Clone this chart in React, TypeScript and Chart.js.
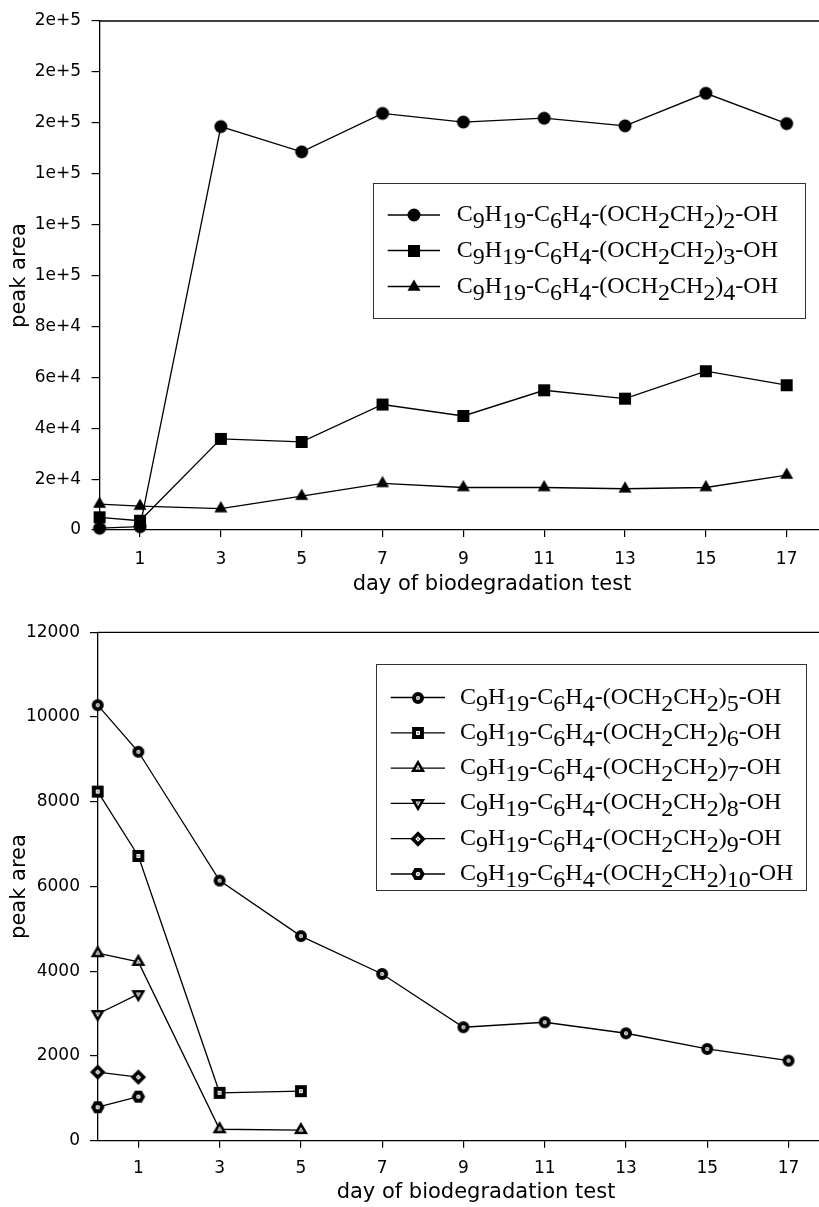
import React, { useEffect, useRef } from 'react';
import { Chart, registerables } from 'chart.js';

Chart.register(...registerables);

// ---------- data ----------
const days = [0, 1, 3, 5, 7, 9, 11, 13, 15, 17];
const xTickValues = [1, 3, 5, 7, 9, 11, 13, 15, 17];
const xTitleText = 'day of biodegradation test';
const yTitleText = 'peak area';

const topSeriesLabels = [
  'C_9H_19-C_6H_4-(OCH_2CH_2)_2-OH',
  'C_9H_19-C_6H_4-(OCH_2CH_2)_3-OH',
  'C_9H_19-C_6H_4-(OCH_2CH_2)_4-OH',
];
const eo2Values = [700, 1300, 158500, 148600, 163700, 160300, 161800, 158800, 171600, 159700];
const eo3Values = [5000, 3650, 35800, 34600, 49300, 44800, 54900, 51600, 62400, 56900];
const eo4Values = [10200, 9400, 8400, 13300, 18300, 16700, 16700, 16200, 16700, 21600];
const topYTicks = [0, 20000, 40000, 60000, 80000, 100000, 120000, 140000, 160000, 180000, 200000];

const bottomSeriesLabels = [
  'C_9H_19-C_6H_4-(OCH_2CH_2)_5-OH',
  'C_9H_19-C_6H_4-(OCH_2CH_2)_6-OH',
  'C_9H_19-C_6H_4-(OCH_2CH_2)_7-OH',
  'C_9H_19-C_6H_4-(OCH_2CH_2)_8-OH',
  'C_9H_19-C_6H_4-(OCH_2CH_2)_9-OH',
  'C_9H_19-C_6H_4-(OCH_2CH_2)_10-OH',
];
const eo5Values = [10280, 9180, 6140, 4830, 3936, 2678, 2796, 2536, 2165, 1889];
const eo6Values = [8240, 6720, 1130, 1170];
const eo7Values = [4425, 4220, 270, 250];
const eo8Values = [2990, 3460];
const eo9Values = [1620, 1500];
const eo10Values = [790, 1040];
const bottomYTicks = [0, 2000, 4000, 6000, 8000, 10000, 12000];

// ---------- helpers ----------
type Shape = 'circle' | 'square' | 'triangle' | 'triangleDown' | 'diamond' | 'hexagon';

function shapePath(ctx: CanvasRenderingContext2D, shape: Shape, cx: number, cy: number, r: number) {
  ctx.beginPath();
  switch (shape) {
    case 'circle':
      ctx.arc(cx, cy, r, 0, Math.PI * 2);
      break;
    case 'square':
      ctx.rect(cx - r, cy - r, 2 * r, 2 * r);
      break;
    case 'triangle':
      ctx.moveTo(cx, cy - r);
      ctx.lineTo(cx + r * 0.866, cy + r * 0.5);
      ctx.lineTo(cx - r * 0.866, cy + r * 0.5);
      ctx.closePath();
      break;
    case 'triangleDown':
      ctx.moveTo(cx, cy + r);
      ctx.lineTo(cx + r * 0.866, cy - r * 0.5);
      ctx.lineTo(cx - r * 0.866, cy - r * 0.5);
      ctx.closePath();
      break;
    case 'diamond':
      ctx.moveTo(cx, cy - r);
      ctx.lineTo(cx + r, cy);
      ctx.lineTo(cx, cy + r);
      ctx.lineTo(cx - r, cy);
      ctx.closePath();
      break;
    case 'hexagon':
      for (let i = 0; i < 6; i++) {
        const a = (i * Math.PI) / 3;
        const px = cx + r * Math.cos(a);
        const py = cy + r * Math.sin(a);
        if (i === 0) ctx.moveTo(px, py);
        else ctx.lineTo(px, py);
      }
      ctx.closePath();
      break;
  }
}

function makeMarker(shape: Shape, r: number, hollow: boolean, lw = 3): HTMLCanvasElement {
  const size = 24;
  const c = document.createElement('canvas');
  c.width = size;
  c.height = size;
  const ctx = c.getContext('2d')!;
  const m = size / 2;
  shapePath(ctx, shape, m, m, r);
  if (hollow) {
    ctx.fillStyle = '#fff';
    ctx.fill();
    ctx.lineWidth = lw;
    ctx.lineJoin = 'miter';
    ctx.strokeStyle = '#000';
    ctx.stroke();
    ctx.beginPath();
    ctx.arc(m, m, 0.9, 0, Math.PI * 2);
    ctx.fillStyle = '#777';
    ctx.fill();
  } else {
    ctx.fillStyle = '#000';
    ctx.fill();
  }
  return c;
}

function drawFormula(ctx: CanvasRenderingContext2D, text: string, x: number, baseline: number) {
  const parts = text.split(/_(\d+)/);
  let cx = x;
  parts.forEach((p, i) => {
    if (!p) return;
    const yy = i % 2 === 1 ? baseline + 7 : baseline;
    ctx.fillText(p, cx, yy);
    cx += ctx.measureText(p).width;
  });
}

type LegendCfg = {
  box: { x: number; y: number; w: number; h: number };
  rows: number[];
  lineX0: number;
  lineX1: number;
  markerX: number;
  textX: number;
  items: { label: string; marker: HTMLCanvasElement }[];
};

function makeDecor(legend: LegendCfg, titlePos: { x: number; y: number }) {
  return {
    id: 'decor',
    afterDraw(chart: any) {
      const { ctx, chartArea } = chart;
      ctx.save();
      // top frame line
      ctx.strokeStyle = '#000';
      ctx.lineWidth = 1.3;
      ctx.beginPath();
      ctx.moveTo(chartArea.left, chartArea.top);
      ctx.lineTo(chartArea.right, chartArea.top);
      ctx.stroke();
      // x axis title
      ctx.font = '21px "DejaVu Sans"';
      ctx.fillStyle = '#000';
      ctx.textAlign = 'center';
      ctx.textBaseline = 'middle';
      ctx.fillText(xTitleText, titlePos.x, titlePos.y);
      // legend
      const b = legend.box;
      ctx.strokeStyle = '#333';
      ctx.lineWidth = 1;
      ctx.strokeRect(b.x + 0.5, b.y + 0.5, b.w, b.h);
      ctx.font = '24px "Liberation Serif"';
      ctx.textAlign = 'left';
      ctx.textBaseline = 'alphabetic';
      legend.items.forEach((it, i) => {
        const y = legend.rows[i];
        ctx.strokeStyle = '#000';
        ctx.lineWidth = 1.3;
        ctx.beginPath();
        ctx.moveTo(legend.lineX0, y);
        ctx.lineTo(legend.lineX1, y);
        ctx.stroke();
        ctx.drawImage(it.marker, Math.round(legend.markerX - it.marker.width / 2), Math.round(y - it.marker.height / 2));
        ctx.fillStyle = '#000';
        drawFormula(ctx, it.label, legend.textX, y + 6);
      });
      ctx.restore();
    },
  };
}

function series(values: number[]) {
  return values.map((v, i) => ({ x: days[i], y: v }));
}

function buildOptions(p: {
  yTicks: number[];
  yMax: number;
  yFmt: (v: number) => string;
  xMax: number;
  yWidth: number;
  xHeight: number;
  padTop: number;
  yTickPad: number;
  xTickPad: number;
  yTickLen: number;
  xTickLen: number;
}) {
  return {
    responsive: false,
    maintainAspectRatio: false,
    animation: false,
    layout: { autoPadding: false, padding: { top: p.padTop, left: 0, right: 0, bottom: 0 } },
    plugins: { legend: { display: false }, tooltip: { enabled: false } },
    scales: {
      x: {
        type: 'linear',
        min: 0,
        max: p.xMax,
        afterBuildTicks: (s: any) => {
          s.ticks = xTickValues.map((v) => ({ value: v }));
        },
        afterFit: (s: any) => {
          s.height = p.xHeight;
          s.paddingLeft = 0;
          s.paddingRight = 0;
        },
        ticks: {
          autoSkip: false,
          maxRotation: 0,
          color: '#000',
          padding: p.xTickPad,
          font: { family: 'DejaVu Sans', size: 17 },
          callback: (v: any) => String(v),
        },
        grid: {
          display: true,
          drawOnChartArea: false,
          drawTicks: true,
          tickLength: p.xTickLen,
          color: '#000',
          lineWidth: 1.2,
        },
        border: { display: true, color: '#000', width: 1.3 },
      },
      y: {
        type: 'linear',
        min: 0,
        max: p.yMax,
        afterBuildTicks: (s: any) => {
          s.ticks = p.yTicks.map((v) => ({ value: v }));
        },
        afterFit: (s: any) => {
          s.width = p.yWidth;
          s.paddingTop = 0;
          s.paddingBottom = 0;
        },
        ticks: {
          autoSkip: false,
          color: '#000',
          padding: p.yTickPad,
          font: { family: 'DejaVu Sans', size: 17 },
          callback: (v: any) => p.yFmt(Number(v)),
        },
        grid: {
          display: true,
          drawOnChartArea: false,
          drawTicks: true,
          tickLength: p.yTickLen,
          color: '#000',
          lineWidth: 1.2,
        },
        border: { display: true, color: '#000', width: 1.3 },
        title: {
          display: true,
          text: yTitleText,
          color: '#000',
          font: { family: 'DejaVu Sans', size: 21 },
          padding: { top: 7, bottom: 0 },
        },
      },
    },
  };
}

function ds(label: string, values: number[], marker: HTMLCanvasElement) {
  return {
    label,
    data: series(values),
    borderColor: '#000',
    backgroundColor: '#000',
    borderWidth: 1.3,
    pointStyle: marker,
    pointRadius: 6,
    pointHoverRadius: 6,
    fill: false,
    tension: 0,
    clip: false,
  };
}

export default function App() {
  const topRef = useRef<HTMLCanvasElement | null>(null);
  const bottomRef = useRef<HTMLCanvasElement | null>(null);

  useEffect(() => {
    const topMarkers = [
      makeMarker('circle', 6.5, false),
      makeMarker('square', 6, false),
      makeMarker('triangle', 7.5, false),
    ];
    const bottomMarkers = [
      makeMarker('circle', 4, true, 4),
      makeMarker('square', 3.9, true, 4),
      makeMarker('triangle', 5.6, true, 2.6),
      makeMarker('triangleDown', 5.6, true, 2.6),
      makeMarker('diamond', 5.2, true, 3.6),
      makeMarker('hexagon', 4.6, true, 3.8),
    ];

    const topValues = [eo2Values, eo3Values, eo4Values];
    const bottomValues = [eo5Values, eo6Values, eo7Values, eo8Values, eo9Values, eo10Values];

    const topChart = new Chart(topRef.current!, {
      type: 'line',
      data: {
        datasets: topSeriesLabels.map((l, i) => ds(l, topValues[i], topMarkers[i])),
      } as any,
      options: buildOptions({
        yTicks: topYTicks,
        yMax: 200000,
        yFmt: (v) => (v === 0 ? '0' : v.toExponential(0)),
        xMax: 17.8,
        yWidth: 99.6,
        xHeight: 75,
        padTop: 21,
        yTickPad: 10.6,
        xTickPad: 12.8,
        yTickLen: 8,
        xTickLen: 7,
      }) as any,
      plugins: [
        makeDecor(
          {
            box: { x: 373, y: 183, w: 432, h: 135 },
            rows: [215, 250.5, 286.5],
            lineX0: 387.7,
            lineX1: 440,
            markerX: 414,
            textX: 456.7,
            items: topSeriesLabels.map((l, i) => ({ label: l, marker: topMarkers[i] })),
          },
          { x: 492, y: 585 }
        ) as any,
      ],
    });

    const bottomChart = new Chart(bottomRef.current!, {
      type: 'line',
      data: {
        datasets: bottomSeriesLabels.map((l, i) => ds(l, bottomValues[i], bottomMarkers[i])),
      } as any,
      options: buildOptions({
        yTicks: bottomYTicks,
        yMax: 12000,
        yFmt: (v) => String(v),
        xMax: 17.75,
        yWidth: 97.7,
        xHeight: 66.3,
        padTop: 27.3,
        yTickPad: 10,
        xTickPad: 10.4,
        yTickLen: 7.7,
        xTickLen: 7,
      }) as any,
      plugins: [
        makeDecor(
          {
            box: { x: 376, y: 59, w: 430, h: 226 },
            rows: [92.5, 127.8, 163.1, 198.4, 233.7, 269],
            lineX0: 390.7,
            lineX1: 445,
            markerX: 418,
            textX: 460,
            items: bottomSeriesLabels.map((l, i) => ({ label: l, marker: bottomMarkers[i] })),
          },
          { x: 476, y: 588 }
        ) as any,
      ],
    });

    return () => {
      topChart.destroy();
      bottomChart.destroy();
    };
  }, []);

  return (
    <div style={{ position: 'absolute', left: 0, top: 0, width: 819, height: 1207, background: '#fff' }}>
      <canvas ref={topRef} width={819} height={605} style={{ position: 'absolute', left: 0, top: 0, display: 'block' }} />
      <canvas ref={bottomRef} width={819} height={602} style={{ position: 'absolute', left: 0, top: 605, display: 'block' }} />
    </div>
  );
}
